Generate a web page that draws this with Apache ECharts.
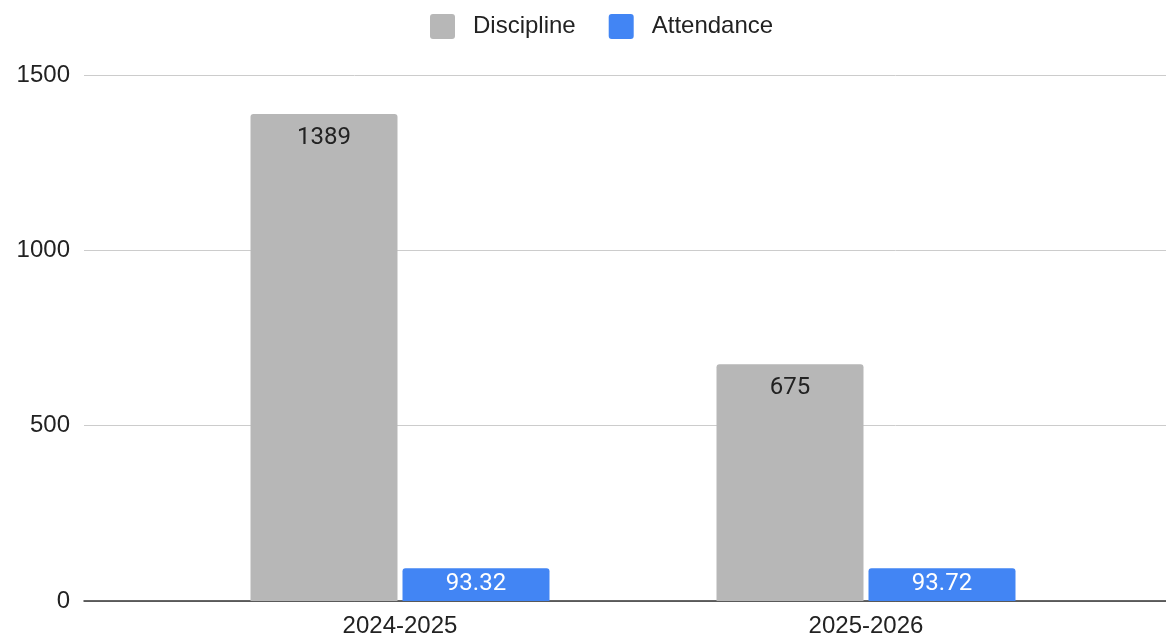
<!DOCTYPE html>
<html><head><meta charset="utf-8">
<script src="https://cdn.jsdelivr.net/npm/echarts@6/dist/echarts.min.js"></script>
<style>html,body{margin:0;padding:0;background:#fff}#c{width:1166px;height:638px}</style>
</head><body><div id="c"></div>
<script>
const categories = ['2024-2025', '2025-2026'];
const discipline = [1389, 675];
const attendance = [93.32, 93.72];
const yTicks = [0, 500, 1000, 1500];

const chart = echarts.init(document.getElementById('c'));
const font = '"Liberation Sans", Arial, sans-serif';
const labelFont = 'Roboto, Arial, sans-serif';
chart.setOption({
  animation: false,
  legend: {
    top: 9, left: 425,
    itemWidth: 25, itemHeight: 25, itemGap: 33,
    icon: 'path://M3,0 H22 Q25,0 25,3 V22 Q25,25 22,25 H3 Q0,25 0,22 V3 Q0,0 3,0 Z',
    textStyle: { fontFamily: font, fontSize: 24, color: '#222', padding: [0, 0, 0, 13] },
    data: ['Discipline', 'Attendance']
  },
  grid: [
    { left: 84, right: 0, top: 75, bottom: 37 },
    { left: 167, right: 67, top: 75, bottom: 37 }
  ],
  xAxis: [
    { gridIndex: 0, type: 'category', data: categories, axisLine: { lineStyle: { color: '#333', width: 1.5 } },
      axisTick: { show: false }, axisLabel: { show: false } },
    { gridIndex: 1, type: 'category', data: categories, axisLine: { show: false }, axisTick: { show: false },
      axisLabel: { fontFamily: font, fontSize: 24, color: '#222', margin: 13 } }
  ],
  yAxis: [
    { gridIndex: 0, type: 'value', min: yTicks[0], max: yTicks[yTicks.length - 1], interval: 500,
      axisLine: { show: false }, axisTick: { show: false },
      axisLabel: { fontFamily: font, fontSize: 24, color: '#222', margin: 14, formatter: v => String(v) },
      splitLine: { lineStyle: { color: '#cccccc', width: 1 } } },
    { gridIndex: 1, type: 'value', min: yTicks[0], max: yTicks[yTicks.length - 1], interval: 500,
      show: false, splitLine: { show: false } }
  ],
  series: [
    { name: 'Discipline', type: 'bar', xAxisIndex: 1, yAxisIndex: 1, data: discipline,
      barWidth: 147, barGap: '3.4%',
      itemStyle: { color: '#b7b7b7', borderRadius: [3, 3, 0, 0] },
      label: { show: true, position: 'insideTop', distance: 12, fontFamily: labelFont, fontSize: 24, color: '#222' } },
    { name: 'Attendance', type: 'bar', xAxisIndex: 1, yAxisIndex: 1, data: attendance,
      barWidth: 147,
      itemStyle: { color: '#4285f4', borderRadius: [3, 3, 0, 0] },
      label: { show: true, position: 'insideTop', distance: 4, fontFamily: labelFont, fontSize: 24, color: '#fff' } }
  ]
});
</script></body></html>
